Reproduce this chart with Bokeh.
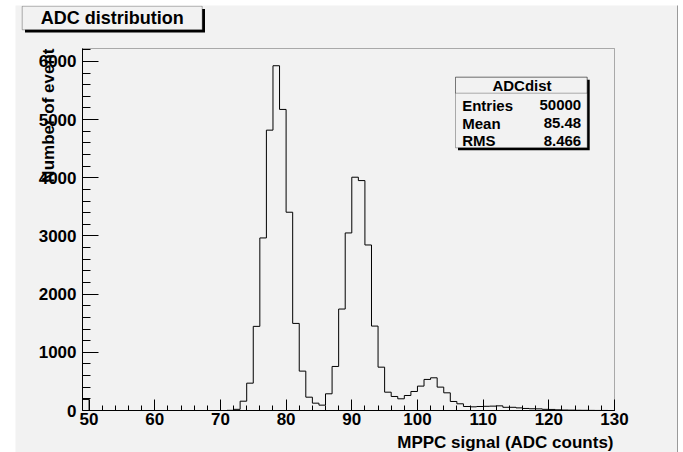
from bokeh.plotting import figure
from bokeh.models import SingleIntervalTicker, Label, BoxAnnotation
from bokeh.embed import file_html
from bokeh.resources import INLINE

# ---- data -------------------------------------------------------------
BIN_LOW = 49
BIN_WIDTH = 1
# counts per 1-ADC bin, bins 49..129
counts = [
    190,                                   # 49
    0, 0, 0, 0, 0, 0, 0, 0, 0, 0,          # 50-59
    0, 0, 0, 0, 0, 0, 0, 0, 0, 0,          # 60-69
    0, 3, 20, 160, 470, 1446, 2966, 4819, 5926, 5175,   # 70-79
    3408, 1497, 677, 229, 126, 92, 287, 757, 1744, 3052, # 80-89
    4010, 3952, 2845, 1451, 745, 315, 241, 201, 258, 327, # 90-99
    419, 534, 562, 402, 304, 155, 115, 69, 63, 69,      # 100-109
    72, 75, 80, 55, 55, 45, 35, 30, 28, 20,             # 110-119
    18, 12, 8, 6, 4, 3, 2, 1, 1, 0,                     # 120-129
]
x_ticks = [50, 60, 70, 80, 90, 100, 110, 120, 130]
y_ticks = [0, 1000, 2000, 3000, 4000, 5000, 6000]
title_text = "ADC distribution"
x_title = "MPPC signal (ADC counts)"
y_title = "Number of event"
stats_name = "ADCdist"
stat_labels = ["Entries", "Mean", "RMS"]
stat_values = ["50000", "85.48", "8.466"]

edges = [BIN_LOW + i * BIN_WIDTH for i in range(len(counts) + 1)]
x_min, x_max = edges[0], edges[-1]
y_max = max(counts) * 1.05

# ---- layout (page pixels) ---------------------------------------------
PAD = "#f2f2f2"
FONT = "Liberation Sans"
PAD_L, PAD_T, PAD_R, PAD_B = 15, 5, 678, 452     # pad area on the page
FR_L, FR_T, FR_R, FR_B = 82, 48, 614, 410        # histogram frame on the page
W, H = PAD_R - PAD_L, PAD_B - PAD_T

def px(x):  # page x -> frame-relative screen x
    return x - PAD_L

def py(y):  # page y -> frame-relative screen y (upwards)
    return PAD_B - y

kx = (x_max - x_min) / (FR_R - FR_L)
ky = y_max / (FR_B - FR_T)
xr = (x_min - (FR_L - PAD_L) * kx, x_max + (PAD_R - FR_R) * kx)
yr = (-(PAD_B - FR_B) * ky, y_max + (FR_T - PAD_T) * ky)

p = figure(width=W, height=H, x_range=xr, y_range=yr,
           output_backend="svg", toolbar_location=None,
           min_border=0, min_border_left=0, min_border_right=0, min_border_top=0, min_border_bottom=0,
           background_fill_color=PAD, border_fill_color=PAD,
           margin=(PAD_T, 0, 0, PAD_L))
p.xgrid.visible = False
p.ygrid.visible = False
p.outline_line_color = None

# histogram frame box
p.add_layout(BoxAnnotation(left=x_min, right=x_max, bottom=0, top=y_max,
                           fill_alpha=0, line_color="black", line_width=1, level="underlay"))

p.step(x=edges, y=counts + [counts[-1]], mode="after", line_color="black", line_width=1)

p.xaxis.ticker = SingleIntervalTicker(interval=10, num_minor_ticks=5)
p.yaxis.ticker = SingleIntervalTicker(interval=1000, num_minor_ticks=5)
p.xaxis.fixed_location = 0
p.yaxis.fixed_location = x_min
p.xaxis.bounds = (x_min, x_max)
p.yaxis.bounds = (0, y_max)
for ax in (p.xaxis, p.yaxis):
    ax.axis_line_color = "black"
    ax.major_tick_line_color = "black"
    ax.minor_tick_line_color = "black"
    ax.major_tick_out = 0
    ax.minor_tick_out = 0
    ax.major_label_text_font = FONT
    ax.major_label_text_font_style = "bold"
    ax.major_label_text_font_size = "17px"
    ax.major_label_text_color = "black"
p.xaxis.major_tick_in = 11
p.xaxis.minor_tick_in = 5
p.xaxis.major_label_standoff = 2
p.yaxis.major_tick_in = 16
p.yaxis.minor_tick_in = 8
p.yaxis.major_label_standoff = 6

def box(l, r, t, b, **kw):
    p.add_layout(BoxAnnotation(left=px(l), right=px(r), top=py(t), bottom=py(b),
                               left_units="screen", right_units="screen",
                               top_units="screen", bottom_units="screen", **kw))

def text(x, y, s, size, align="left", baseline="middle", angle=0):
    p.add_layout(Label(x=px(x), y=py(y), x_units="screen", y_units="screen", text=s,
                       angle=angle, text_align=align, text_baseline=baseline, text_font=FONT,
                       text_font_style="bold", text_font_size=size, text_color="black"))

# axis titles
text(613, 442, x_title, "17px", align="right", baseline="alphabetic")
text(48, 48, y_title, "17px", align="right", baseline="alphabetic", angle=1.5708)

# pad right border (shadow edge)
box(676.5, 678, 0, 460, fill_color="#9a9a9a", fill_alpha=1, line_alpha=0)

# title box with shadow
box(24.5, 204.5, 8.5, 32, fill_color="black", fill_alpha=1, line_alpha=0)
box(21.7, 201.7, 5.7, 29.3, fill_color=PAD, fill_alpha=1, line_color="black", line_width=1)
text(111.7, 17.8, title_text, "18px", align="center")

# stats box with shadow
box(457.5, 589.2, 79.2, 149.8, fill_color="black", fill_alpha=1, line_alpha=0)
box(455, 586.7, 76.7, 147.3, fill_color=PAD, fill_alpha=1, line_color="black", line_width=1)
box(455, 586.7, 76.7, 92.7, fill_alpha=0, line_color="black", line_width=1)
text(521.5, 84.8, stats_name, "15px", align="center")
row_y = [104.7, 122.5, 140.0]
for name, val, yy in zip(stat_labels, stat_values, row_y):
    text(461.7, yy, name, "15px", align="left")
    text(580.7, yy, val, "15px", align="right")

open("out.html", "w").write(file_html(p, INLINE))
